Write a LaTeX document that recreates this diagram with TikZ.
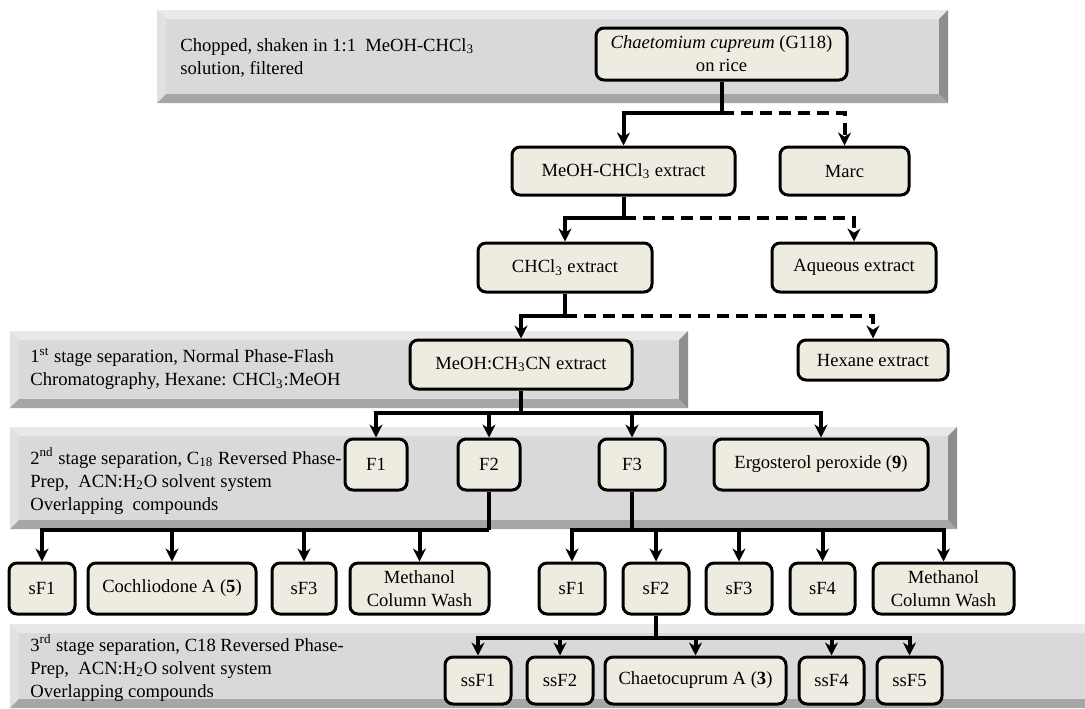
\documentclass[tikz,border=0pt]{standalone}
\usepackage{fontspec}
\setmainfont{Liberation Serif}
\usetikzlibrary{arrows.meta}
\definecolor{boxfill}{HTML}{EEECE1}
\definecolor{panelface}{HTML}{D9D9D9}
\definecolor{paneltop}{HTML}{E9E9E9}
\definecolor{panelleft}{HTML}{E1E1E1}
\definecolor{panelbottom}{HTML}{A6A6A6}
\definecolor{panelright}{HTML}{8E8E8E}
% bevelled grey band behind a stage: x1,y1,x2,y2 (px)
\newcommand{\stagepanel}[4]{%
  \fill[panelface] (#1,#2) rectangle (#3,#4);
  \fill[paneltop] (#1,#2) -- (#3,#2) -- (#3-9,#2+9) -- (#1+9,#2+9) -- cycle;
  \fill[panelleft] (#1,#2) -- (#1+9,#2+9) -- (#1+9,#4-9) -- (#1,#4) -- cycle;
  \fill[panelbottom] (#1,#4) -- (#1+9,#4-9) -- (#3-9,#4-9) -- (#3,#4) -- cycle;
  \fill[panelright] (#3,#2) -- (#3,#4) -- (#3-9,#4-9) -- (#3-9,#2+9) -- cycle;
}

\begin{document}
\begin{tikzpicture}[x=0.5pt,y=-0.5pt,>={Stealth[length=6.5pt,width=6.5pt]},
  every node/.style={font=\fontsize{9.3}{11.5}\selectfont},
  box/.style={draw=black,line width=1.5pt,rounded corners=4pt,fill=boxfill,
    inner sep=0pt,align=center},
  sz/.style 2 args={minimum width=#1*0.5pt,minimum height=#2*0.5pt},
  stagetext/.style={anchor=west,align=left,inner sep=0pt},
  flow/.style={line width=2pt},
  dashline/.style={dash pattern=on 6pt off 3.5pt}]
  \clip (0,0) rectangle (1085,708);
  \fill[white] (0,0) rectangle (1085,708);
  % stage bands
  \stagepanel{157}{10}{948}{103}
  \stagepanel{10}{331}{688}{408}
  \stagepanel{10}{427}{957}{529}
  \stagepanel{10}{624}{1100}{708}
  \node[stagetext] (p1txt) at (180,58)
    {Chopped, shaken in 1:1\ \ MeOH-CHCl\textsubscript{3}\\solution, filtered};
  \node[stagetext] (p2txt) at (30,369)
    {1\textsuperscript{st} stage separation, Normal Phase-Flash\\Chromatography, Hexane: CHCl\textsubscript{3}:MeOH};
  \node[stagetext] (p3txt) at (30,481)
    {2\textsuperscript{nd} stage separation, C\textsubscript{18} Reversed Phase-\\Prep,\ \ ACN:H\textsubscript{2}O solvent system\\Overlapping\ \ compounds};
  \node[stagetext] (p4txt) at (30,668)
    {3\textsuperscript{rd} stage separation, C18 Reversed Phase-\\Prep,\ \ ACN:H\textsubscript{2}O solvent system\\Overlapping compounds};
  % extraction
  \node[box,sz={251}{52}] (chae) at (721.5,54) {\textit{Chaetomium cupreum} (G118)\\on rice};
  \node[box,sz={223}{48}] (mce) at (623.5,171) {MeOH-CHCl\textsubscript{3} extract};
  \node[box,sz={129}{48}] (marc) at (844.5,171) {Marc};
  \node[box,sz={174}{49}] (chcl) at (565,267.5) {CHCl\textsubscript{3} extract};
  \node[box,sz={164}{49}] (aq) at (854,267.5) {Aqueous extract};
  \node[box,sz={222}{49}] (mcn) at (521,364.5) {MeOH:CH\textsubscript{3}CN extract};
  \node[box,sz={150}{40}] (hex) at (873,360) {Hexane extract};
  % fractions
  \node[box,sz={62}{51}] (f1) at (376,464.5) {F1};
  \node[box,sz={62}{51}] (f2) at (489,464.5) {F2};
  \node[box,sz={66}{51}] (f3) at (632,464.5) {F3};
  \node[box,sz={214}{51}] (ergo) at (821,464.5) {Ergosterol peroxide (\textbf{9})};
  % subfractions
  \node[box,sz={66}{51}] (sfa1) at (42,588.5) {sF1};
  \node[box,sz={168}{51}] (coch) at (172,588.5) {Cochliodone A (\textbf{5})};
  \node[box,sz={64}{51}] (sfa3) at (304,588.5) {sF3};
  \node[box,sz={139}{51}] (mcwa) at (419.5,588.5) {Methanol\\Column Wash};
  \node[box,sz={66}{51}] (sfb1) at (572,588.5) {sF1};
  \node[box,sz={66}{51}] (sfb2) at (656,588.5) {sF2};
  \node[box,sz={66}{51}] (sfb3) at (739,588.5) {sF3};
  \node[box,sz={65}{51}] (sfb4) at (822.5,588.5) {sF4};
  \node[box,sz={141}{51}] (mcwb) at (943.5,588.5) {Methanol\\Column Wash};
  \node[box,sz={66}{47}] (ssf1) at (478,680.5) {ssF1};
  \node[box,sz={66}{47}] (ssf2) at (560,680.5) {ssF2};
  \node[box,sz={181}{47}] (chaeto) at (695.5,680.5) {Chaetocuprum A (\textbf{3})};
  \node[box,sz={65}{47}] (ssf4) at (831.5,680.5) {ssF4};
  \node[box,sz={65}{47}] (ssf5) at (909.5,680.5) {ssF5};
  % connectors
  \coordinate (j1) at (721.5,113);
  \coordinate (j2) at (623.5,218);
  \coordinate (j3) at (565,316);
  \coordinate (j4) at (521,413);
  \coordinate (j5) at (489,530);
  \coordinate (j6) at (632,530);
  \coordinate (j7) at (656,638);
  \draw[flow] (chae) -- (j1);
  \draw[flow,->] (j1) -| (mce);
  \draw[flow,dashline,->] (j1) -| (marc);
  \draw[flow] (mce) -- (j2);
  \draw[flow,->] (j2) -| (chcl);
  \draw[flow,dashline,->] (j2) -| (aq);
  \draw[flow] (chcl) -- (j3);
  \draw[flow,->] (j3) -| (mcn);
  \draw[flow,dashline,->] (j3) -| (hex);
  \draw[flow] (mcn) -- (j4);
  \foreach \n in {f1,f2,f3,ergo}
    \draw[flow,->] (j4) -| (\n);
  \draw[flow] (f2) -- (j5);
  \foreach \n in {sfa1,coch,sfa3,mcwa}
    \draw[flow,->] (j5) -| (\n);
  \draw[flow] (f3) -- (j6);
  \foreach \n in {sfb1,sfb2,sfb3,sfb4,mcwb}
    \draw[flow,->] (j6) -| (\n);
  \draw[flow] (sfb2) -- (j7);
  \foreach \n in {ssf1,ssf2,chaeto,ssf4,ssf5}
    \draw[flow,->] (j7) -| (\n);
\end{tikzpicture}
\end{document}
